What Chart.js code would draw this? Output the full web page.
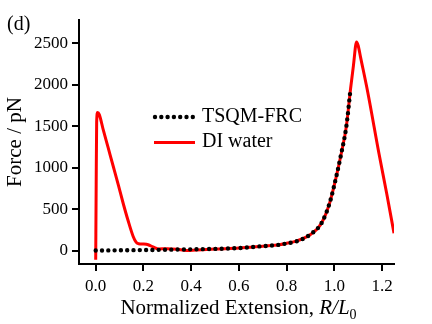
<!DOCTYPE html>
<html>
<head>
<meta charset="utf-8">
<script src="https://cdn.jsdelivr.net/npm/chart.js@4/dist/chart.umd.min.js"></script>
<style>
  body { margin: 0; background: #fff; }
  canvas { display: block; }
</style>
</head>
<body>
<canvas id="forceChart" width="432" height="324"></canvas>
<script>
// DI water curve (red)
const waterX = [0.000, 0.002, 0.004, 0.008, 0.015, 0.032, 0.053, 0.074, 0.095, 0.115, 0.135, 0.157, 0.170, 0.180, 0.200, 0.220, 0.240, 0.262, 0.300, 0.340, 0.380, 0.420, 0.500, 0.600, 0.700, 0.770, 0.800, 0.840, 0.900, 0.946, 0.980, 1.008, 1.029, 1.050, 1.068, 1.080, 1.093, 1.100, 1.110, 1.140, 1.187, 1.220, 1.250];
const waterY = [-108, 800, 1550, 1665, 1640, 1452, 1232, 1012, 790, 572, 370, 172, 100, 84, 80, 72, 45, 22, 25, 18, 2, 8, 20, 32, 55, 72, 90, 115, 195, 332, 572, 892, 1172, 1492, 1952, 2230, 2515, 2470, 2330, 1910, 1172, 680, 212];

// TSQM-FRC curve (black dots)
const frcX = [0.000, 0.100, 0.200, 0.300, 0.400, 0.500, 0.600, 0.687, 0.770, 0.800, 0.841, 0.897, 0.946, 0.980, 1.008, 1.029, 1.050, 1.068];
const frcY = [3, 5, 8, 12, 17, 22, 32, 52, 72, 88, 112, 192, 332, 572, 892, 1172, 1492, 1952];

const xTicks = [0.0, 0.2, 0.4, 0.6, 0.8, 1.0, 1.2];
const yTicks = [0, 500, 1000, 1500, 2000, 2500];

const seriesNames = ['TSQM-FRC', 'DI water'];

const serif = '"Liberation Serif", "DejaVu Serif", serif';

function toPoints(xs, ys) {
    return xs.map((x, i) => ({ x: x, y: ys[i] }));
}

// axis titles, panel label and the legend drawn inside the plot
const textPlugin = {
    id: 'textPlugin',
    afterDraw(chart) {
        const ctx = chart.ctx;
        const area = chart.chartArea;
        ctx.save();
        ctx.fillStyle = '#000';
        ctx.textBaseline = 'alphabetic';

        // (d)
        ctx.font = '20px ' + serif;
        ctx.textAlign = 'left';
        ctx.fillText('(d)', 7, 30);

        // y title
        ctx.save();
        ctx.translate(21, (area.top + area.bottom) / 2);
        ctx.rotate(-Math.PI / 2);
        ctx.textAlign = 'center';
        ctx.font = '21px ' + serif;
        ctx.fillText('Force / pN', 0, 0);
        ctx.restore();

        // x title with italic R/L and subscript 0
        const parts = [
            { t: 'Normalized Extension, ', f: '21px ' + serif, dy: 0 },
            { t: 'R/L', f: 'italic 21px ' + serif, dy: 0 },
            { t: '0', f: '14px ' + serif, dy: 5 }
        ];
        let total = 0;
        parts.forEach(p => { ctx.font = p.f; p.w = ctx.measureText(p.t).width; total += p.w; });
        let x = (area.left + area.right) / 2 + 2 - total / 2;
        ctx.textAlign = 'left';
        parts.forEach(p => {
            ctx.font = p.f;
            ctx.fillText(p.t, x, 314 + p.dy);
            x += p.w;
        });

        // legend
        ctx.font = '20px ' + serif;
        ctx.textBaseline = 'middle';
        ctx.fillText(seriesNames[0], 202, 117);
        ctx.fillText(seriesNames[1], 202, 142);

        ctx.fillStyle = '#000';
        for (let i = 0; i < 7; i++) {
            ctx.beginPath();
            ctx.arc(155 + i * 6.3, 117, 2.2, 0, Math.PI * 2);
            ctx.fill();
        }
        ctx.strokeStyle = '#ff0000';
        ctx.lineWidth = 3;
        ctx.beginPath();
        ctx.moveTo(154, 142.5);
        ctx.lineTo(195, 142.5);
        ctx.stroke();
        ctx.restore();
    }
};

new Chart(document.getElementById('forceChart'), {
    type: 'scatter',
    data: {
        datasets: [
            {
                label: seriesNames[1],
                data: toPoints(waterX, waterY),
                showLine: true,
                borderColor: '#ff0000',
                borderWidth: 3,
                pointRadius: 0,
                cubicInterpolationMode: 'monotone',
                order: 2
            },
            {
                label: seriesNames[0],
                data: toPoints(frcX, frcY),
                showLine: true,
                borderColor: '#000',
                borderWidth: 4.4,
                borderCapStyle: 'round',
                borderDash: [0, 6.3],
                pointRadius: 0,
                cubicInterpolationMode: 'monotone',
                order: 1
            }
        ]
    },
    options: {
        responsive: false,
        devicePixelRatio: 1,
        animation: false,
        layout: { padding: { top: 20, right: 38, left: 0, bottom: 0 } },
        plugins: {
            legend: { display: false },
            tooltip: { enabled: false }
        },
        scales: {
            x: {
                type: 'linear',
                min: -0.07,
                max: 1.25,
                afterFit: scale => { scale.height = 60; },
                afterBuildTicks: scale => { scale.ticks = xTicks.map(v => ({ value: v })); },
                border: { display: true, color: '#000', width: 2 },
                grid: { drawOnChartArea: false, drawTicks: true, tickLength: 7, color: '#000', lineWidth: 2 },
                ticks: {
                    color: '#000',
                    font: { family: serif, size: 17 },
                    padding: 5,
                    maxRotation: 0,
                    callback: v => v.toFixed(1)
                }
            },
            y: {
                type: 'linear',
                min: -160,
                max: 2780,
                afterFit: scale => { scale.width = 79; },
                afterBuildTicks: scale => { scale.ticks = yTicks.map(v => ({ value: v })); },
                border: { display: true, color: '#000', width: 2 },
                grid: { drawOnChartArea: false, drawTicks: true, tickLength: 7, color: '#000', lineWidth: 2 },
                ticks: {
                    color: '#000',
                    font: { family: serif, size: 17 },
                    padding: 4,
                    callback: v => String(v)
                }
            }
        }
    },
    plugins: [textPlugin]
});
</script>
</body>
</html>
